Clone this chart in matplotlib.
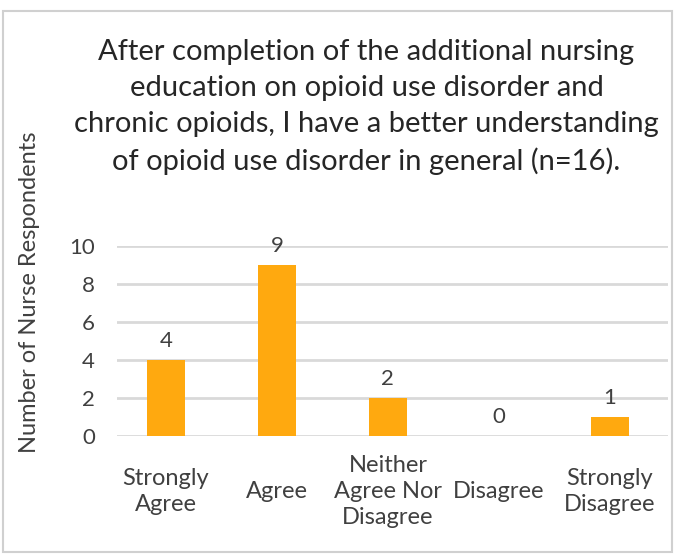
import matplotlib.pyplot as plt
import numpy as np
from matplotlib.patches import Rectangle

plt.rcParams['font.family'] = ['Lato', 'DejaVu Sans']

# survey responses
categories = ["Strongly\nAgree", "Agree", "Neither\nAgree Nor\nDisagree", "Disagree", "Strongly\nDisagree"]
counts = [4, 9, 2, 0, 1]
yticks = [0, 2, 4, 6, 8, 10]
title = ("After completion of the additional nursing\n"
         "education on opioid use disorder and\n"
         "chronic opioids, I have a better understanding\n"
         "of opioid use disorder in general (n=16).")

fig = plt.figure(figsize=(6.75, 5.54), dpi=100)
ax = fig.add_axes([0.1733, 0.213, 0.8163, 0.343])

x = np.arange(len(categories))
ax.bar(x, counts, width=0.34, color='#FFA90F', zorder=3)
for xi, c in zip(x, counts):
    ax.text(xi, c + 0.45, str(c), ha='center', va='bottom', fontsize=16, color='#404040')

ax.set_xlim(-0.441, 4.523)
ax.set_ylim(0, 10)
ax.set_yticks(yticks)
ax.set_xticks(x)
ax.set_xticklabels(categories, fontsize=17, color='#404040', linespacing=1.3)
for lbl in ax.get_xticklabels():
    lbl.set_verticalalignment('center')
ax.tick_params(axis='y', labelsize=16, colors='#404040', length=0, pad=16)
ax.tick_params(axis='x', length=0, pad=40)
ax.grid(axis='y', color='#D9D9D9', linewidth=2, zorder=0)
for s in ax.spines.values():
    s.set_visible(False)

fig.text(0.044, 0.473, 'Number of Nurse Respondents', rotation=90, ha='center', va='center',
         fontsize=17, color='#404040')

fig.text(0.543, 0.93, title, ha='center', va='top', fontsize=21, color='#262626', linespacing=1.48)

# outer border
fig.patches.append(Rectangle((0.004, 0.003), 0.992, 0.978, transform=fig.transFigure,
                             fill=False, edgecolor='#D0D0D0', linewidth=1.5))

fig.savefig('out.png', dpi=100)
